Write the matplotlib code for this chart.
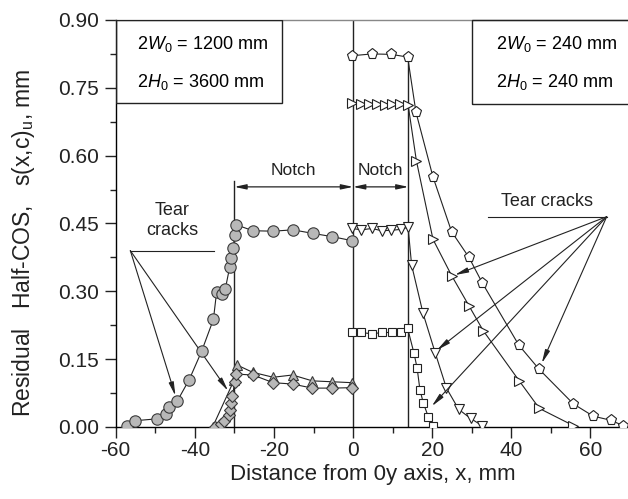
import matplotlib
matplotlib.use("Agg")
import matplotlib.pyplot as plt
from matplotlib.ticker import MultipleLocator, FormatStrFormatter
from matplotlib.patches import Rectangle

plt.rcParams['font.family'] = ['Liberation Sans', 'DejaVu Sans']
plt.rcParams['mathtext.fontset'] = 'custom'
plt.rcParams['mathtext.rm'] = 'Liberation Sans'
plt.rcParams['mathtext.it'] = 'Liberation Sans:italic'
plt.rcParams['axes.unicode_minus'] = False

# ---- data (left specimen 2W0=1200 mm) ----
circ_x = [-57.2, -55.0, -49.6, -47.4, -46.5, -44.4, -41.4, -38.3, -35.3, -34.5, -33.1, -32.3,
          -31.2, -30.8, -30.3, -29.9, -29.5, -25.3, -20.2, -15.2, -10.1, -5.3, -0.25]
circ_y = [0.002, 0.014, 0.018, 0.028, 0.044, 0.058, 0.105, 0.167, 0.238, 0.298, 0.294, 0.305,
          0.353, 0.374, 0.395, 0.425, 0.447, 0.434, 0.433, 0.436, 0.428, 0.421, 0.412]

tri_x = [-35.5, -30.0, -29.5, -29.3, -25.4, -20.2, -15.3, -10.3, -5.2, -0.25]
tri_y = [0.000, 0.105, 0.125, 0.137, 0.121, 0.110, 0.115, 0.102, 0.100, 0.098]

dia_x = [-35.0, -33.5, -32.5, -31.4, -31.0, -30.8, -30.5, -29.9, -29.6, -25.3, -20.2, -15.3,
         -10.3, -5.2, -0.25]
dia_y = [0.000, 0.006, 0.014, 0.027, 0.038, 0.052, 0.069, 0.099, 0.117, 0.115, 0.098, 0.095,
         0.086, 0.086, 0.087]

# ---- data (right specimen 2W0=240 mm) ----
pent_x = [-0.25, 4.8, 9.7, 13.8, 15.9, 20.2, 24.9, 29.3, 32.7, 41.9, 47.0, 55.7, 60.7, 65.1, 68.3]
pent_y = [0.821, 0.825, 0.824, 0.818, 0.696, 0.553, 0.432, 0.375, 0.318, 0.181, 0.128, 0.051,
          0.024, 0.015, 0.003]

trr_x = [-0.25, 1.9, 4.0, 6.1, 8.0, 9.9, 11.8, 13.9, 16.0, 20.2, 24.9, 29.3, 32.9, 42.0, 47.1, 55.7]
trr_y = [0.717, 0.715, 0.714, 0.715, 0.713, 0.715, 0.714, 0.713, 0.589, 0.415, 0.335, 0.268,
         0.213, 0.102, 0.041, 0.003]

trd_x = [-0.25, 2.1, 4.8, 7.2, 9.7, 12.1, 13.9, 14.8, 17.7, 20.8, 23.6, 26.7, 29.7, 32.6]
trd_y = [0.439, 0.436, 0.439, 0.434, 0.435, 0.437, 0.442, 0.358, 0.251, 0.163, 0.086, 0.039,
         0.019, 0.003]

sq_x = [-0.25, 2.1, 4.8, 7.3, 9.8, 12.2, 13.8, 15.4, 16.2, 16.9, 17.8, 19.0, 20.2]
sq_y = [0.209, 0.209, 0.206, 0.209, 0.209, 0.211, 0.218, 0.163, 0.130, 0.082, 0.052, 0.023, 0.002]

xticks = [-60, -40, -20, 0, 20, 40, 60]
yticks = [0.00, 0.15, 0.30, 0.45, 0.60, 0.75, 0.90]

fig = plt.figure(figsize=(6.28, 4.99), dpi=100)
ax = fig.add_axes([115.7 / 628, 72 / 499, (630 - 115.7) / 628, 407 / 499])
ax.set_xlim(-60, 70)
ax.set_ylim(0, 0.90)

gray = '#b8b8b8'
edge = '#3a3a3a'
lw = 0.8

# vertical reference lines
ax.plot([0, 0], [0, 0.90], color='#222222', lw=1.0, zorder=1)
ax.plot([-30, -30], [0, 0.545], color='#222222', lw=1.0, zorder=1)
ax.plot([14, 14], [0, 0.818], color='#222222', lw=1.0, zorder=1)

ax.plot(circ_x, circ_y, '-o', color='#222222', lw=lw, ms=8.2, mfc=gray, mec=edge, mew=0.8, zorder=4)
ax.plot(tri_x, tri_y, '-^', color='#222222', lw=lw, ms=7.5, mfc=gray, mec=edge, mew=0.8, zorder=3)
ax.plot(dia_x, dia_y, '-D', color='#222222', lw=lw, ms=6.5, mfc=gray, mec=edge, mew=0.8, zorder=3)

ax.plot(pent_x, pent_y, '-p', color='#222222', lw=lw, ms=8.0, mfc='white', mec='#222222', mew=0.8, zorder=3)
ax.plot(trr_x, trr_y, '->', color='#222222', lw=lw, ms=7.0, mfc='white', mec='#222222', mew=0.8, zorder=3)
ax.plot(trd_x, trd_y, '-v', color='#222222', lw=lw, ms=7.0, mfc='white', mec='#222222', mew=0.8, zorder=3)
ax.plot(sq_x, sq_y, '-s', color='#222222', lw=lw, ms=5.8, mfc='white', mec='#222222', mew=0.8, zorder=3)

# Notch arrows
notch_style = dict(arrowstyle='<|-|>,head_length=0.7,head_width=0.15', color='#222222', lw=0.9,
                   shrinkA=0, shrinkB=0)
ax.annotate('', xy=(-30, 0.531), xytext=(0, 0.531), arrowprops=notch_style)
ax.annotate('', xy=(0, 0.531), xytext=(14, 0.531), arrowprops=notch_style)
ax.text(-15, 0.567, 'Notch', ha='center', va='center', fontsize=12.5, color='#222222')
ax.text(7, 0.567, 'Notch', ha='center', va='center', fontsize=12.5, color='#222222')

# Tear cracks, left
arr = dict(arrowstyle='-|>,head_length=0.8,head_width=0.15', color='#222222', lw=0.8,
           shrinkA=0, shrinkB=0)
ax.text(-45.7, 0.456, 'Tear\ncracks', ha='center', va='center', fontsize=13, color='#222222',
        linespacing=1.25)
ax.plot([-56.3, -35.2], [0.390, 0.390], color='#222222', lw=0.8)
ax.annotate('', xy=(-44.9, 0.069), xytext=(-56.3, 0.390), arrowprops=arr)
ax.annotate('', xy=(-31.6, 0.080), xytext=(-56.3, 0.390), arrowprops=arr)

# Tear cracks, right
ax.text(48.9, 0.498, 'Tear cracks', ha='center', va='center', fontsize=13, color='#222222')
ax.plot([34.0, 64.1], [0.465, 0.465], color='#222222', lw=0.8)
for tx, ty in [(25.7, 0.336), (21.2, 0.170), (19.9, 0.046), (47.7, 0.141)]:
    ax.annotate('', xy=(tx, ty), xytext=(64.1, 0.465), arrowprops=arr)

# boxes
ax.add_patch(Rectangle((-60, 0.716), 42.1, 0.184, fill=False, ec='#222222', lw=1.0, zorder=5))
ax.add_patch(Rectangle((30.1, 0.714), 40.5, 0.186, fill=False, ec='#222222', lw=1.0, zorder=5,
                       clip_on=False))
ax.text(-54.6, 0.848, r'2$\mathit{W}_0$ = 1200 mm', ha='left', va='center', fontsize=13)
ax.text(-54.6, 0.764, r'2$\mathit{H}_0$ = 3600 mm', ha='left', va='center', fontsize=13)
ax.text(36.1, 0.848, r'2$\mathit{W}_0$ = 240 mm', ha='left', va='center', fontsize=13)
ax.text(36.1, 0.764, r'2$\mathit{H}_0$ = 240 mm', ha='left', va='center', fontsize=13)

# axes styling
ax.spines['right'].set_visible(False)
ax.spines['top'].set_color('#888888')
ax.spines['top'].set_linewidth(1.0)
ax.spines['left'].set_linewidth(1.0)
ax.spines['bottom'].set_linewidth(1.0)
ax.set_xticks(xticks)
ax.set_yticks(yticks)
ax.xaxis.set_minor_locator(MultipleLocator(10))
ax.yaxis.set_minor_locator(MultipleLocator(0.075))
ax.yaxis.set_major_formatter(FormatStrFormatter('%.2f'))
ax.tick_params(which='major', direction='out', length=8, width=1.0, labelsize=15, pad=4,
               colors='#222222')
ax.tick_params(axis='x', which='major', pad=2)
ax.tick_params(which='minor', direction='out', length=4.5, width=1.0, colors='#222222')
ax.tick_params(top=False, right=False, which='both')

ax.set_xlabel('Distance from 0y axis, x, mm', fontsize=16, color='#222222')
ax.set_ylabel(r'Residual   Half-COS,   s(x,c)$_\mathrm{u}$, mm', fontsize=16.5,
              color='#222222')
ax.xaxis.set_label_coords((372.5 - 115.7) / 514.3, (427 - 485) / 407)
ax.yaxis.set_label_coords((23 - 115.7) / 514.3, (427 - 243) / 407)
ax.xaxis.label.set_va('bottom')
ax.yaxis.label.set_va('center')

fig.savefig('out.png', dpi=100)
